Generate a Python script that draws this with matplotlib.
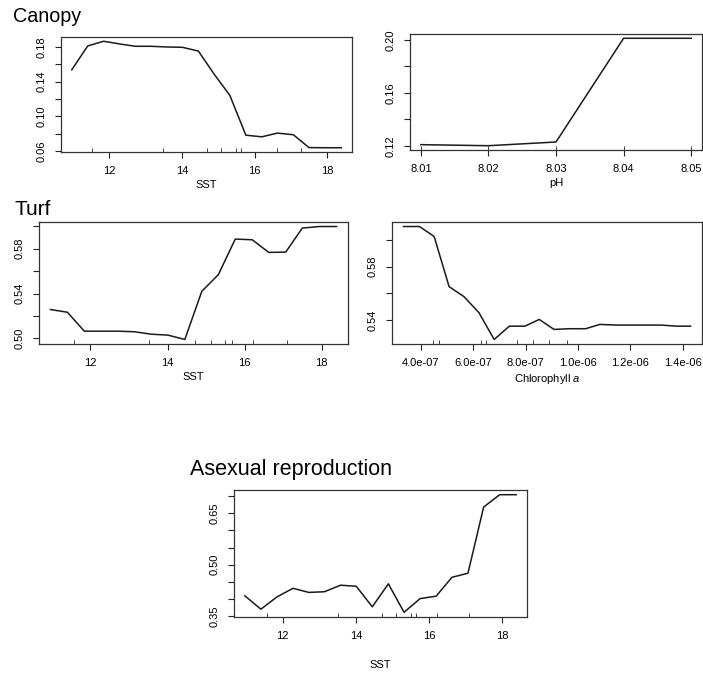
import matplotlib
matplotlib.use("Agg")
import matplotlib.pyplot as plt

plt.rcParams["font.family"] = ["Liberation Sans", "DejaVu Sans"]
plt.rcParams["mathtext.fontset"] = "custom"
plt.rcParams["mathtext.it"] = "Liberation Sans:italic"
plt.rcParams["mathtext.rm"] = "Liberation Sans"

# --- dados ---
sst_grid = [10.96, 11.40, 11.84, 12.28, 12.71, 13.14, 13.58, 14.01, 14.45,
            14.89, 15.32, 15.76, 16.20, 16.63, 17.07, 17.50, 17.94, 18.39]
canopy_sst = [0.1537, 0.1812, 0.1866, 0.1835, 0.1808, 0.1808, 0.1800, 0.1796, 0.1753,
              0.1484, 0.1240, 0.0782, 0.0763, 0.0806, 0.0787, 0.0639, 0.0637, 0.0637]
turf_sst = [0.5258, 0.5234, 0.5065, 0.5065, 0.5065, 0.5060, 0.5038, 0.5030, 0.4991,
            0.5420, 0.5569, 0.5886, 0.5880, 0.5767, 0.5770, 0.5984, 0.5998, 0.5998]
asexual_sst = [0.409, 0.370, 0.406, 0.431, 0.419, 0.421, 0.440, 0.437, 0.377,
               0.444, 0.361, 0.401, 0.408, 0.463, 0.475, 0.668, 0.704, 0.704]

ph_grid = [8.01, 8.02, 8.03, 8.04, 8.05]
canopy_ph = [0.1208, 0.1200, 0.1228, 0.2013, 0.2013]

chl_grid = [3.34e-7, 3.95e-7, 4.51e-7, 5.08e-7, 5.65e-7, 6.22e-7, 6.80e-7, 7.38e-7,
            7.97e-7, 8.52e-7, 9.08e-7, 9.69e-7, 1.029e-6, 1.083e-6, 1.147e-6,
            1.204e-6, 1.265e-6, 1.318e-6, 1.375e-6, 1.429e-6]
turf_chl = [0.6098, 0.6098, 0.6024, 0.5651, 0.5576, 0.5457, 0.5258, 0.5357, 0.5357,
            0.5407, 0.5333, 0.5338, 0.5338, 0.5370, 0.5365, 0.5365, 0.5365, 0.5365,
            0.5357, 0.5357]

# rug (decis)
canopy_sst_rug = [11.53, 13.48, 14.69, 15.08, 15.49, 15.63, 16.61, 17.27]
canopy_ph_rug = [8.01, 8.02, 8.03, 8.04, 8.05]
turf_sst_rug = [11.57, 13.52, 14.71, 15.12, 15.50, 15.68, 16.22, 17.11]
turf_chl_rug = [4.46e-7, 4.71e-7, 6.29e-7, 6.49e-7, 7.68e-7, 8.27e-7, 8.89e-7, 9.56e-7]
asexual_sst_rug = [11.56, 13.50, 14.71, 15.09, 15.52, 15.66, 16.22, 17.09]

sst_ticks = [12, 14, 16, 18]
sst_labels = ["12", "14", "16", "18"]
ph_ticks = [8.01, 8.02, 8.03, 8.04, 8.05]
ph_labels = ["8.01", "8.02", "8.03", "8.04", "8.05"]
chl_ticks = [4e-7, 6e-7, 8e-7, 1e-6, 1.2e-6, 1.4e-6]
chl_labels = ["4.0e-07", "6.0e-07", "8.0e-07", "1.0e-06", "1.2e-06", "1.4e-06"]

canopy_sst_yticks = [0.06, 0.08, 0.10, 0.12, 0.14, 0.16, 0.18]
canopy_sst_ylabels = ["0.06", "", "0.10", "", "0.14", "", "0.18"]
canopy_ph_yticks = [0.12, 0.14, 0.16, 0.18, 0.20]
canopy_ph_ylabels = ["0.12", "", "0.16", "", "0.20"]
turf_sst_yticks = [0.50, 0.52, 0.54, 0.56, 0.58, 0.60]
turf_sst_ylabels = ["0.50", "", "0.54", "", "0.58", ""]
turf_chl_yticks = [0.54, 0.56, 0.58, 0.60]
turf_chl_ylabels = ["0.54", "", "0.58", ""]
asexual_yticks = [0.35, 0.40, 0.45, 0.50, 0.55, 0.60, 0.65, 0.70]
asexual_ylabels = ["0.35", "", "", "0.50", "", "", "0.65", ""]

W, H = 703, 673


def px_rect(left, top, right, bottom):
    return [left / W, 1 - bottom / H, (right - left) / W, (bottom - top) / H]


def painel(fig, rect, x, y, rug, xticks, xlabels, yticks, ylabels, xlabel, labelpad=3):
    ax = fig.add_axes(px_rect(*rect))
    ax.plot(x, y, color="#1a1a1a", lw=1.1)
    ax.margins(0.04)
    ax.set_xticks(xticks)
    ax.set_xticklabels(xlabels)
    ax.set_xticks(rug, minor=True)
    ax.xaxis.remove_overlapping_locs = False
    ax.set_yticks(yticks)
    ax.set_yticklabels(ylabels, rotation=90, va="center")
    ax.tick_params(which="major", direction="out", length=4, width=0.8,
                   labelsize=8, pad=6, color="#222222")
    ax.tick_params(which="minor", axis="x", direction="in", length=3, width=0.6,
                   color="#222222")
    ax.tick_params(which="minor", axis="y", left=False)
    ax.set_xlabel(xlabel, fontsize=8, labelpad=labelpad)
    for s in ax.spines.values():
        s.set_linewidth(0.9)
        s.set_color("#333333")
    return ax


fig = plt.figure(figsize=(W / 100, H / 100), dpi=100)

painel(fig, (61, 37, 352, 152), sst_grid, canopy_sst, canopy_sst_rug,
       sst_ticks, sst_labels, canopy_sst_yticks, canopy_sst_ylabels, "SST")
painel(fig, (410, 34, 702, 150), ph_grid, canopy_ph, canopy_ph_rug,
       ph_ticks, ph_labels, canopy_ph_yticks, canopy_ph_ylabels, "pH")
painel(fig, (39, 222, 348, 344), sst_grid, turf_sst, turf_sst_rug,
       sst_ticks, sst_labels, turf_sst_yticks, turf_sst_ylabels, "SST")
painel(fig, (392, 222, 702, 344), chl_grid, turf_chl, turf_chl_rug,
       chl_ticks, chl_labels, turf_chl_yticks, turf_chl_ylabels, r"Chlorophyll $a$")
painel(fig, (234, 490, 527, 617), sst_grid, asexual_sst, asexual_sst_rug,
       sst_ticks, sst_labels, asexual_yticks, asexual_ylabels, "SST", labelpad=14)

fig.text(13 / W, 1 - 22 / H, "Canopy", fontsize=14.2, va="baseline", ha="left")
fig.text(15 / W, 1 - 215 / H, "Turf", fontsize=15, va="baseline", ha="left")
fig.text(190 / W, 1 - 475 / H, "Asexual reproduction", fontsize=15.5, va="baseline", ha="left")

fig.savefig("out.png", dpi=100, facecolor="white")
